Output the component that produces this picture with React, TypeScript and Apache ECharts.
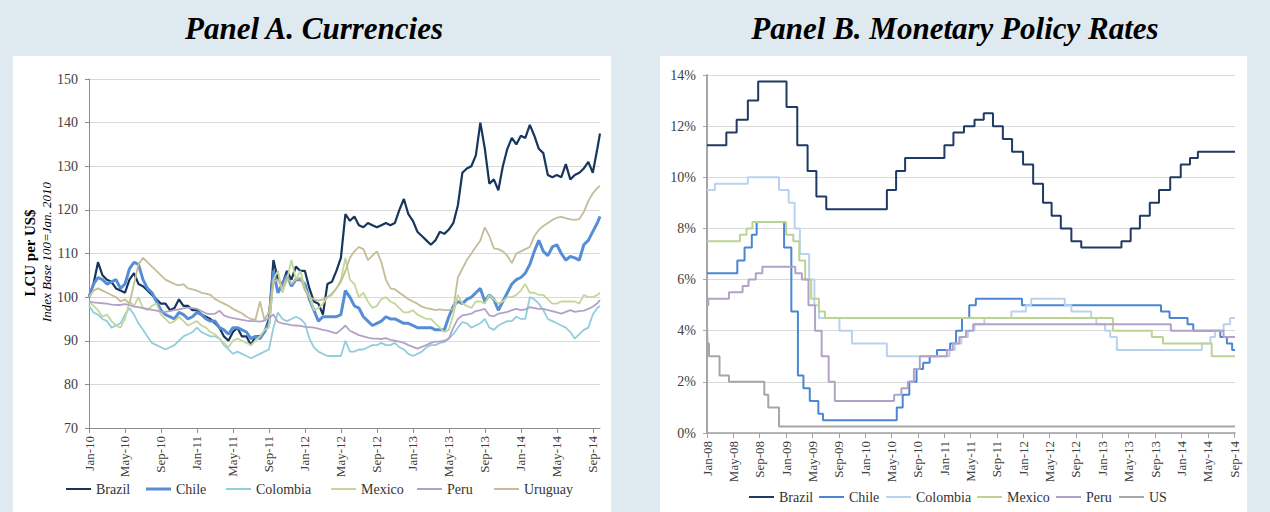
import React, { useEffect, useRef } from "react";
import * as echarts from "echarts";

const FONT = "Liberation Serif";

// ---------- Panel A: currencies, index (Jan-2010 = 100) ----------
// values on the 1st and 16th of each month from Jan-10, last value at fxLastDate
const fxBrazil = [
  100, 103, 108, 105, 104, 103.5, 102, 101.5, 101, 104, 105.5, 103, 102.5, 101.5, 100.5, 99.5, 98.5, 98.5, 97, 97.5, 99.5, 98, 98, 97,
  97, 96, 95.5, 95, 94, 93, 91, 90, 92, 93, 91, 91, 89, 91, 91, 92, 95, 108.5, 104, 103, 106, 104, 107, 106,
  106, 102, 99, 98.5, 96, 103, 103.5, 106, 109, 119, 117.5, 118.5, 116.5, 116, 117, 116.5, 116, 116.5, 117, 116.5, 117, 120, 122.5, 119,
  117.5, 115, 114, 113, 112, 113, 115, 114.5, 115.5, 117, 121, 128.5, 129.5, 130, 132.5, 140, 134, 126, 127, 124.5, 130, 134, 136.5, 135,
  137, 136.5, 139.5, 137, 134, 133, 128, 127.5, 128, 127.5, 130.5, 127, 128, 128.5, 129.5, 131, 128.5, 134, 137.5,
];
const fxChile = [
  100, 103, 104.5, 104, 103, 103.5, 104, 102, 103, 106.5, 108, 107.5, 104, 102, 101, 99, 97, 96, 95.5, 95, 96.5, 96, 95, 95.5,
  96.5, 96, 95, 94.5, 94.5, 93, 92.5, 91.5, 93, 93, 92.5, 92, 90.5, 91, 90.5, 92, 94, 106, 101, 103, 105, 102.5, 104, 104,
  103, 99.5, 97, 94.5, 95.5, 95.5, 95.5, 95.5, 96, 101.5, 100, 98, 97.5, 95.5, 94.5, 93.5, 94, 94.5, 95.5, 95, 95, 94.5, 94, 94,
  93.5, 93, 93, 93, 93, 92.5, 92.5, 92.5, 95.5, 98, 99, 98.5, 99.5, 100, 101, 102, 99, 100.5, 99.5, 97, 99, 101, 103, 104,
  104.5, 105.5, 107.5, 110.5, 113, 110.5, 109.5, 111.5, 112, 110, 108.5, 109.3, 109, 108.5, 112, 113, 115, 117, 118.5,
];
const fxColombia = [
  98, 96.5, 96, 95, 94.5, 93, 93.5, 94, 96, 97.5, 96, 94, 92.5, 91, 89.5, 89, 88.5, 88, 88.5, 89, 90, 91, 91.5, 92,
  93, 92, 91.5, 91, 91, 90.5, 89, 88, 87, 87.5, 87, 86.5, 86, 86.5, 87, 87.5, 88, 93, 96.5, 95, 94.5, 95, 95.5, 95,
  94, 90.5, 88.5, 87.5, 87, 86.5, 86.5, 86.5, 86.5, 90, 87.5, 87.5, 88, 88, 88.5, 89, 89, 89.5, 89, 89, 89.5, 88.5, 88, 87,
  86.5, 87, 87.5, 88.5, 89, 89, 89.5, 89.7, 90.5, 91.5, 93, 94.3, 94, 93, 93.5, 94, 95, 93, 92.5, 93.5, 94, 94.5, 94.5, 95.5,
  95, 95, 100, 99.5, 98.5, 97, 95, 94.5, 94, 93.5, 93, 92, 90.5, 91.5, 92.5, 93, 96, 97.5, 98,
];
const fxMexico = [
  99, 98, 97, 95.5, 96, 94.5, 93.5, 93, 95, 99, 98, 100, 97.5, 97, 98, 98.5, 96, 95, 94, 94.5, 95.5, 94.5, 93.5, 94,
  94.5, 93.5, 93, 92, 91.5, 90.5, 89.5, 88.5, 90, 90.5, 90, 89.5, 89, 90, 91, 92.5, 93, 104, 106, 101, 104, 108.5, 104, 106,
  102, 100, 97, 97.5, 98.5, 100, 100.5, 102, 104, 109, 104, 103, 100, 101, 99, 97.5, 98, 99.5, 100, 99, 98.5, 97.5, 96.5, 96.5,
  97, 96, 95.5, 95, 95, 94, 93, 92, 92.5, 96, 100.5, 98.5, 98, 97.5, 99, 99, 98.5, 100.5, 99.5, 98.5, 99, 100, 100, 100.5,
  101.5, 103, 101, 101, 100.5, 100.5, 99.5, 98.5, 98.5, 99, 99, 99, 99, 98.5, 100.5, 100, 100, 100.5, 101,
];
const fxPeru = [
  99, 98.8, 98.7, 98.6, 98.5, 98.3, 98.2, 98.2, 98.4, 98.2, 97.8, 97.7, 97.5, 97.3, 97.1, 96.9, 96.7, 96.6, 96.8, 97, 97.2, 97.4, 97.6, 97.5,
  97.3, 96.8, 96.3, 96.1, 96.2, 96.9, 95.8, 95.4, 95.2, 95, 94.8, 94.6, 94.5, 94.5, 94.4, 94.6, 95.2, 96, 94.3, 94, 93.8, 93.6, 93.5, 93.4,
  93.2, 93.1, 93, 92.8, 92.5, 92.3, 92, 91.7, 92.5, 93.5, 92.3, 91.8, 91.3, 91, 90.7, 90.5, 90.5, 90.4, 90.6, 90.2, 90, 89.8, 89.5, 89,
  88.6, 88.2, 88.6, 89, 89.5, 89.8, 89.8, 90, 90.5, 93, 95, 95.8, 96, 96.2, 96.8, 97, 97.3, 95.8, 95.6, 96.2, 96.4, 96.6, 97, 97.3,
  97, 97.2, 97.7, 97.5, 97.3, 97.3, 97, 96.8, 96.5, 96.2, 96.6, 97, 96.6, 96.8, 96.9, 97.3, 97.8, 98.6, 99.3,
];
const fxUruguay = [
  100, 101.5, 102, 101.5, 101, 100.5, 100, 99, 99.5, 98.5, 103, 107.5, 109, 108, 107, 106, 105, 104, 103.5, 103, 102.7, 103, 102, 101.8,
  101.5, 101, 100.8, 100.5, 99.6, 99, 98.5, 98, 97.3, 96.8, 96.3, 95.5, 95, 94.8, 99, 94.8, 96.6, 103.5, 104, 102, 104.5, 103, 104, 104.5,
  101.5, 100, 99.5, 99.2, 99.5, 100, 100.8, 102, 103.5, 106, 109, 110.5, 111.5, 111, 108.5, 109.5, 110.5, 108, 104, 102, 101.8, 101, 100.3, 99.5,
  99, 98.5, 97.8, 97.5, 97.3, 97, 97.2, 97, 97, 97.3, 104.5, 106.5, 108.5, 110, 111.5, 113, 116, 114, 111.2, 111, 110.5, 109.5, 107.8, 110,
  110.5, 111, 111.5, 114, 115.4, 116.3, 117, 117.7, 118.2, 118.4, 118.1, 117.8, 117.7, 117.9, 119.5, 122, 123.8, 125, 125.5,
];
const fxLastDate = "2014-09-25";
const fxTickLabels = [
  "Jan-10", "May-10", "Sep-10", "Jan-11", "May-11", "Sep-11", "Jan-12", "May-12",
  "Sep-12", "Jan-13", "May-13", "Sep-13", "Jan-14", "May-14", "Sep-14",
];

// ---------- Panel B: monetary policy rates (%), [change date, new rate] ----------
const rateBrazil: [string, number][] = [
  ["2008-01-01", 11.25], ["2008-03-29", 11.75], ["2008-05-16", 12.25], ["2008-07-07", 13.0], ["2008-08-24", 13.75],
  ["2009-01-03", 12.75], ["2009-02-22", 11.25], ["2009-04-09", 10.25], ["2009-05-19", 9.25], ["2009-07-04", 8.75],
  ["2010-04-10", 9.5], ["2010-05-22", 10.25], ["2010-07-03", 10.75], ["2011-01-02", 11.25], ["2011-02-13", 11.75],
  ["2011-04-01", 12.0], ["2011-05-19", 12.25], ["2011-07-01", 12.5], ["2011-08-13", 12.0], ["2011-09-28", 11.5],
  ["2011-11-10", 11.0], ["2011-12-30", 10.5], ["2012-02-16", 9.75], ["2012-04-01", 9.0], ["2012-05-10", 8.5],
  ["2012-06-22", 8.0], ["2012-08-10", 7.5], ["2012-09-25", 7.25], ["2013-03-28", 7.5], ["2013-05-10", 8.0],
  ["2013-06-22", 8.5], ["2013-08-07", 9.0], ["2013-09-19", 9.5], ["2013-11-10", 10.0], ["2013-12-28", 10.5],
  ["2014-02-10", 10.75], ["2014-03-16", 11.0], ["2014-09-05", 11.0],
];
const rateChile: [string, number][] = [
  ["2008-01-01", 6.25], ["2008-05-19", 6.75], ["2008-06-22", 7.25], ["2008-07-25", 7.75], ["2008-08-17", 8.25],
  ["2008-12-22", 7.25], ["2009-01-25", 4.75], ["2009-02-25", 2.25], ["2009-03-20", 1.75], ["2009-04-19", 1.25],
  ["2009-05-28", 0.75], ["2009-06-19", 0.5], ["2010-05-25", 1.0], ["2010-06-22", 1.5], ["2010-07-22", 2.0],
  ["2010-08-25", 2.5], ["2010-09-25", 2.75], ["2010-10-25", 3.0], ["2010-11-28", 3.25], ["2011-01-28", 3.5],
  ["2011-02-25", 4.0], ["2011-03-22", 4.5], ["2011-04-25", 5.0], ["2011-05-25", 5.25], ["2011-12-25", 5.0],
  ["2013-09-28", 4.75], ["2013-11-07", 4.5], ["2014-01-29", 4.25], ["2014-02-25", 4.0], ["2014-06-28", 3.75],
  ["2014-07-28", 3.5], ["2014-08-22", 3.25], ["2014-09-05", 3.25],
];
const rateColombia: [string, number][] = [
  ["2008-01-01", 9.5], ["2008-02-07", 9.75], ["2008-07-07", 10.0], ["2008-11-29", 9.5], ["2009-01-13", 9.0],
  ["2009-02-10", 8.0], ["2009-03-04", 7.0], ["2009-04-16", 6.0], ["2009-05-10", 5.0], ["2009-06-01", 4.5],
  ["2009-09-04", 4.0], ["2009-11-01", 3.5], ["2010-04-10", 3.0], ["2011-01-25", 3.25], ["2011-02-19", 3.5],
  ["2011-03-19", 3.75], ["2011-04-19", 4.0], ["2011-05-19", 4.25], ["2011-07-04", 4.5], ["2011-11-07", 4.75],
  ["2012-01-13", 5.0], ["2012-02-07", 5.25], ["2012-07-10", 5.0], ["2012-08-10", 4.75], ["2012-11-10", 4.5],
  ["2012-12-04", 4.25], ["2013-01-13", 4.0], ["2013-02-07", 3.75], ["2013-03-07", 3.25], ["2014-04-04", 3.5],
  ["2014-05-13", 3.75], ["2014-06-04", 4.0], ["2014-07-13", 4.25], ["2014-08-13", 4.5], ["2014-09-05", 4.5],
];
const rateMexico: [string, number][] = [
  ["2008-01-01", 7.5], ["2008-06-01", 7.75], ["2008-07-01", 8.0], ["2008-07-28", 8.25], ["2009-01-01", 7.75],
  ["2009-02-04", 7.5], ["2009-03-01", 6.75], ["2009-03-28", 6.0], ["2009-04-25", 5.25], ["2009-06-01", 4.75],
  ["2009-06-28", 4.5], ["2013-02-19", 4.0], ["2013-08-16", 3.75], ["2013-10-07", 3.5], ["2014-05-19", 3.0],
  ["2014-09-05", 3.0],
];
const ratePeru: [string, number][] = [
  ["2008-01-01", 5.0], ["2008-01-07", 5.25], ["2008-04-11", 5.5], ["2008-06-13", 5.75], ["2008-07-10", 6.0],
  ["2008-08-13", 6.25], ["2008-09-13", 6.5], ["2009-02-13", 6.25], ["2009-03-13", 6.0], ["2009-04-13", 5.0],
  ["2009-05-13", 4.0], ["2009-06-13", 3.0], ["2009-07-15", 2.0], ["2009-08-13", 1.25], ["2010-05-13", 1.5],
  ["2010-06-16", 1.75], ["2010-07-16", 2.0], ["2010-08-13", 2.5], ["2010-09-10", 3.0], ["2011-01-13", 3.25],
  ["2011-02-10", 3.5], ["2011-03-10", 3.75], ["2011-04-10", 4.0], ["2011-05-13", 4.25], ["2013-11-13", 4.0],
  ["2014-07-13", 3.75], ["2014-09-05", 3.75],
];
const rateUS: [string, number][] = [
  ["2008-01-01", 4.25], ["2008-01-03", 3.5], ["2008-01-10", 3.0], ["2008-02-28", 2.25], ["2008-04-11", 2.0],
  ["2008-09-22", 1.5], ["2008-10-10", 1.0], ["2008-11-29", 0.25], ["2014-09-05", 0.25],
];
const rateTickLabels = [
  "Jan-08", "May-08", "Sep-08", "Jan-09", "May-09", "Sep-09", "Jan-10", "May-10", "Sep-10", "Jan-11", "May-11",
  "Sep-11", "Jan-12", "May-12", "Sep-12", "Jan-13", "May-13", "Sep-13", "Jan-14", "May-14", "Sep-14",
];

// months elapsed since 1 Jan of baseYear
function monthsSince(d: string, baseYear: number): number {
  const [y, m, dd] = d.split("-").map(Number);
  return (y - baseYear) * 12 + (m - 1) + (dd - 1) / 30;
}

function tickFormatter(labels: string[]) {
  return (v: number) => {
    const k = Math.round(v / 4);
    return Math.abs(v - 4 * k) < 1e-6 && labels[k] ? labels[k] : "";
  };
}

function buildOption() {
  const fxMax = monthsSince(fxLastDate, 2010);
  const rateMax = monthsSince("2014-09-05", 2008);
  const fxX = (i: number, n: number) => (i < n - 1 ? i / 2 : fxMax);

  const fxLine = (name: string, arr: number[], color: string, width: number) => ({
    name,
    type: "line",
    xAxisIndex: 0,
    yAxisIndex: 0,
    symbol: "none",
    showSymbol: false,
    silent: true,
    lineStyle: { color, width },
    itemStyle: { color },
    data: arr.map((v, i) => [fxX(i, arr.length), v]),
  });
  const rateLine = (name: string, arr: [string, number][], color: string, width: number) => ({
    name,
    type: "line",
    step: "end",
    xAxisIndex: 1,
    yAxisIndex: 1,
    symbol: "none",
    showSymbol: false,
    silent: true,
    lineStyle: { color, width },
    itemStyle: { color },
    data: arr.map(([d, v]) => [monthsSince(d, 2008), v]),
  });

  const fxColors = {
    Brazil: "#17365d",
    Chile: "#558ed5",
    Colombia: "#92cddc",
    Mexico: "#c3d69b",
    Peru: "#b3a2c7",
    Uruguay: "#c4bd97",
  };
  const rateColors = {
    Brazil: "#1f3a63",
    Chile: "#4a86d4",
    Colombia: "#b9d2ee",
    Mexico: "#bcd492",
    Peru: "#b3a2c7",
    US: "#a6a6a6",
  };

  const legendItem = (name: string, color: string, left: number, top: number, h: number) => ({
    left,
    top,
    padding: 0,
    itemGap: 0,
    itemWidth: 25,
    itemHeight: h,
    icon: "rect",
    selectedMode: false,
    textStyle: { fontFamily: FONT, fontSize: 14, color: "#333" },
    data: [{ name, itemStyle: { color } }],
  });

  const axisLabelStyle = { fontFamily: FONT, color: "#404040" };
  const fxTicks = fxTickLabels.map((_, k) => 4 * k);
  const rateTicks = rateTickLabels.map((_, k) => 4 * k);

  return {
    animation: false,
    backgroundColor: "#dfe9f0",
    graphic: [
      { type: "rect", z: -10, shape: { x: 13, y: 56, width: 598, height: 470 }, style: { fill: "#ffffff" } },
      { type: "rect", z: -10, shape: { x: 660, y: 56, width: 587, height: 470 }, style: { fill: "#ffffff" } },
      {
        type: "text", x: 314, y: 28, z: 10,
        style: { text: "Panel A. Currencies", font: "italic bold 31px Liberation Serif", fill: "#000", textAlign: "center", textVerticalAlign: "middle" },
      },
      {
        type: "text", x: 955, y: 28, z: 10,
        style: { text: "Panel B. Monetary Policy Rates", font: "italic bold 31px Liberation Serif", fill: "#000", textAlign: "center", textVerticalAlign: "middle" },
      },
      {
        type: "text", x: 30, y: 253, z: 10, rotation: Math.PI / 2,
        style: { text: "LCU per US$", font: "bold 15px Liberation Serif", fill: "#000", textAlign: "center", textVerticalAlign: "middle" },
      },
      {
        type: "text", x: 46, y: 252, z: 10, rotation: Math.PI / 2,
        style: { text: "Index Base 100=Jan. 2010", font: "italic 13px Liberation Serif", fill: "#000", textAlign: "center", textVerticalAlign: "middle" },
      },
    ],
    grid: [
      { left: 89, top: 79, width: 511, height: 349 },
      { left: 707, top: 75, width: 528, height: 358 },
    ],
    xAxis: [
      {
        gridIndex: 0, type: "value", min: 0, max: fxMax, interval: 4,
        axisLine: { show: true, lineStyle: { color: "#8c8c8c", width: 1 } },
        axisTick: { show: true, length: 5, lineStyle: { color: "#8c8c8c" }, customValues: fxTicks },
        axisLabel: { ...axisLabelStyle, fontSize: 13, rotate: 90, margin: 8, formatter: tickFormatter(fxTickLabels), customValues: fxTicks },
        splitLine: { show: false },
      },
      {
        gridIndex: 1, type: "value", min: 0, max: rateMax, interval: 4,
        axisLine: { show: true, lineStyle: { color: "#a0a0a0", width: 1.5 } },
        axisTick: { show: true, length: 5, lineStyle: { color: "#a0a0a0" }, customValues: rateTicks },
        axisLabel: { ...axisLabelStyle, fontSize: 13, rotate: 90, margin: 8, formatter: tickFormatter(rateTickLabels), customValues: rateTicks },
        splitLine: { show: false },
      },
    ],
    yAxis: [
      {
        gridIndex: 0, type: "value", min: 70, max: 150, interval: 10,
        axisLine: { show: true, lineStyle: { color: "#8c8c8c", width: 1 } },
        axisTick: { show: true, length: 4, lineStyle: { color: "#8c8c8c" } },
        axisLabel: { ...axisLabelStyle, fontSize: 14, margin: 11 },
        splitLine: { show: true, lineStyle: { color: "#d9d9d9", width: 1 } },
      },
      {
        gridIndex: 1, type: "value", min: 0, max: 14, interval: 2,
        axisLine: { show: true, lineStyle: { color: "#a6a6a6", width: 2 } },
        axisTick: { show: true, length: 4, lineStyle: { color: "#a6a6a6" } },
        axisLabel: { ...axisLabelStyle, fontSize: 14, margin: 11, formatter: (v: number) => `${v}%` },
        splitLine: { show: true, lineStyle: { color: "#d9d9d9", width: 1 } },
      },
    ],
    legend: [
      legendItem("Brazil", fxColors.Brazil, 66, 482, 2),
      legendItem("Chile", fxColors.Chile, 146, 482, 3),
      legendItem("Colombia", fxColors.Colombia, 226, 482, 2),
      legendItem("Mexico", fxColors.Mexico, 331, 482, 2),
      legendItem("Peru", fxColors.Peru, 417, 482, 2),
      legendItem("Uruguay", fxColors.Uruguay, 494, 482, 2),
      legendItem("Brazil", rateColors.Brazil, 749, 490, 2),
      legendItem("Chile", rateColors.Chile, 819, 490, 2),
      legendItem("Colombia", rateColors.Colombia, 886, 490, 2),
      legendItem("Mexico", rateColors.Mexico, 977, 490, 2),
      legendItem("Peru", rateColors.Peru, 1056, 490, 2),
      legendItem("US", rateColors.US, 1119, 490, 2),
    ],
    series: [
      fxLine("Brazil", fxBrazil, fxColors.Brazil, 2.2),
      fxLine("Chile", fxChile, fxColors.Chile, 3),
      fxLine("Colombia", fxColombia, fxColors.Colombia, 1.8),
      fxLine("Mexico", fxMexico, fxColors.Mexico, 1.8),
      fxLine("Peru", fxPeru, fxColors.Peru, 1.8),
      fxLine("Uruguay", fxUruguay, fxColors.Uruguay, 1.8),
      rateLine("Brazil", rateBrazil, rateColors.Brazil, 2),
      rateLine("Chile", rateChile, rateColors.Chile, 2),
      rateLine("Colombia", rateColombia, rateColors.Colombia, 2),
      rateLine("Mexico", rateMexico, rateColors.Mexico, 2),
      rateLine("Peru", ratePeru, rateColors.Peru, 2),
      rateLine("US", rateUS, rateColors.US, 2),
    ],
  };
}

export default function App() {
  const ref = useRef<HTMLDivElement>(null);
  useEffect(() => {
    if (!ref.current) return;
    const chart = echarts.init(ref.current, undefined, { renderer: "svg" });
    chart.setOption(buildOption() as any);
    return () => chart.dispose();
  }, []);
  return <div ref={ref} style={{ position: "fixed", left: 0, top: 0, width: 1270, height: 512 }} />;
}
